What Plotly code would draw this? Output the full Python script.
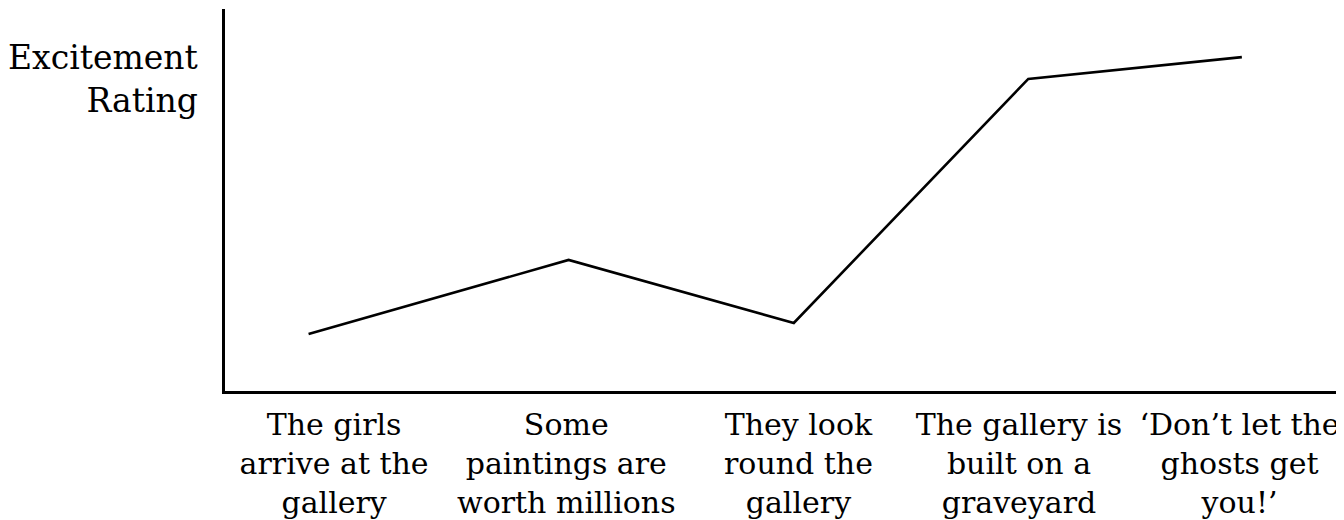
import plotly.graph_objects as go

# Data
categories = [
    "The girls<br>arrive at the<br>gallery",
    "Some<br>paintings are<br>worth millions",
    "They look<br>round the<br>gallery",
    "The gallery is<br>built on a<br>graveyard",
    "‘Don’t let the<br>ghosts get<br>you!’",
]
category_pos = [0, 1, 2, 2.95, 3.9]
point_x = [-0.11, 1.01, 1.98, 2.99, 3.91]
excitement = [1.49, 3.43, 1.78, 8.17, 8.74]
y_title = "Excitement<br>Rating"

FONT = "DejaVu Serif"

fig = go.Figure()
fig.add_trace(go.Scatter(
    x=point_x, y=excitement, mode="lines",
    line=dict(color="black", width=2.6),
    hoverinfo="skip", showlegend=False,
))

fig.update_layout(
    width=1336, height=512,
    margin=dict(l=217, r=0, t=1, b=129),
    paper_bgcolor="white", plot_bgcolor="white",
    font=dict(family=FONT, color="black", size=30),
    xaxis=dict(
        range=[-0.47, 4.35], showgrid=False, zeroline=False,
        showline=True, linecolor="black", linewidth=3,
        tickmode="array", tickvals=category_pos, ticktext=categories,
        ticks="", tickangle=0,
        tickfont=dict(family=FONT, size=30, color="black"),
        ticklabeloverflow="allow", automargin=False,
        ticklabelstandoff=5,
        fixedrange=True,
    ),
    yaxis=dict(
        range=[0, 10], showgrid=False, zeroline=False,
        showline=True, linecolor="black", linewidth=3,
        showticklabels=False, ticks="", fixedrange=True, automargin=False,
    ),
    annotations=[dict(
        text=y_title, xref="paper", yref="paper",
        x=-0.022, y=0.93, xanchor="right", yanchor="top",
        align="right", showarrow=False,
        font=dict(family=FONT, size=33, color="black"),
    )],
)

fig.write_html("out.html")
